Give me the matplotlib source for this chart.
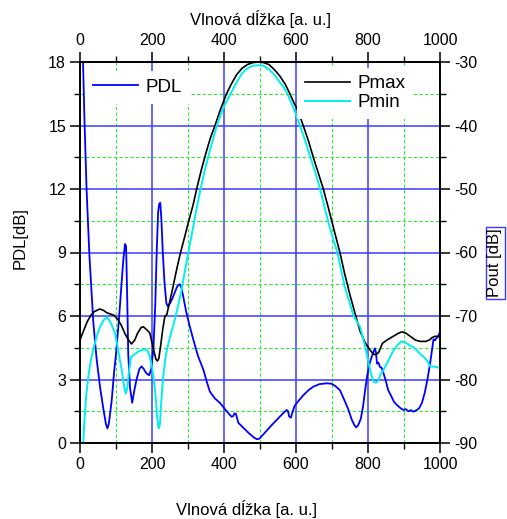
import matplotlib
matplotlib.use("Agg")
import matplotlib.pyplot as plt
from matplotlib.ticker import FixedLocator

plt.rcParams['font.family'] = ['Liberation Sans', 'DejaVu Sans']
plt.rcParams['axes.unicode_minus'] = False

W, H = 507, 519

# PDL trace (left axis, dB)
pdl_x = [8, 12, 18, 26, 37, 46, 56, 65, 72, 76, 80, 88, 95, 100, 108, 115, 120, 125,
         128, 131, 134, 139, 145, 150, 157, 165, 171, 177, 184, 192, 198, 204, 209, 213,
         217, 220, 223, 226, 230, 235, 240, 244, 250, 256, 263, 270, 277, 281, 287, 295,
         305, 315, 328, 343, 352, 361, 375, 389, 405, 421, 426, 429, 433, 436, 440, 455,
         470, 484, 491, 498, 510, 530, 550, 565, 574, 578, 581, 586, 590, 596, 605, 620,
         635, 648, 665, 685, 699, 710, 722, 735, 745, 755, 762, 767, 773, 780, 786, 792,
         798, 805, 812, 819, 822, 825, 829, 833, 838, 843, 850, 856, 865, 872, 880, 890,
         898, 905, 912, 920, 926, 935, 942, 950, 958, 965, 972, 978, 982, 986, 990, 994, 1000]
pdl_y = [18.3, 15.5, 12.1, 8.9, 5.7, 4.0, 2.6, 1.6, 0.9, 0.69, 0.9, 2.0, 3.4, 4.2, 5.8, 7.4, 8.6, 9.4,
         9.3, 7.0, 4.2, 2.6, 1.9, 2.4, 3.0, 3.5, 3.62, 3.5, 3.3, 3.2, 3.5, 4.5, 6.5, 9.0,
         10.9, 11.3, 11.35, 10.6, 9.0, 7.5, 6.6, 6.45, 6.6, 6.8, 7.1, 7.4, 7.5, 7.4, 6.9, 6.2,
         5.5, 4.87, 4.1, 3.45, 2.9, 2.42, 2.1, 1.89, 1.55, 1.24, 1.28, 1.4, 1.38, 1.2, 0.95, 0.7,
         0.45, 0.25, 0.18, 0.2, 0.42, 0.8, 1.15, 1.42, 1.56, 1.5, 1.25, 1.2, 1.45, 1.75, 1.95, 2.25,
         2.5, 2.66, 2.78, 2.82, 2.8, 2.68, 2.5, 2.0, 1.6, 1.1, 0.85, 0.74, 0.85, 1.15, 1.7, 2.5,
         3.2, 3.8, 4.15, 4.47, 4.3, 3.75, 3.8, 3.6, 3.55, 3.3, 2.9, 2.5, 2.2, 1.95, 1.8, 1.65,
         1.56, 1.6, 1.5, 1.55, 1.48, 1.55, 1.64, 1.9, 2.4, 3.0, 3.7, 4.4, 4.9, 4.85, 4.95, 5.0, 5.26]

# Output power traces (right axis, dB)
pmax_x = [0, 10, 20, 30, 40, 55, 65, 75, 85, 95, 106, 115, 125, 135, 143, 152, 160, 170,
          176, 186, 194, 200, 206, 211, 215, 219, 224, 230, 236, 241, 255, 268, 278, 290,
          300, 315, 324, 337, 350, 362, 375, 390, 407, 420, 435, 450, 465, 480, 495, 510,
          525, 540, 555, 570, 583, 595, 605, 620, 635, 648, 662, 676, 690, 705, 722, 735,
          750, 766, 778, 792, 805, 815, 822, 830, 840, 855, 870, 885, 894, 905, 920, 932,
          945, 960, 970, 978, 986, 992, 1000]
pmax_y = [-73.8, -72.3, -70.9, -69.9, -69.3, -68.9, -69.1, -69.5, -69.7, -69.9, -70.6, -71.5, -72.8, -73.8, -74.4, -73.8, -72.7, -71.8,
          -71.7, -72.2, -72.7, -74.2, -75.7, -76.8, -77.1, -76.7, -74.7, -72.0, -70.0, -69.8, -66.3, -62.8, -60.3, -57.7,
          -55.5, -52.3, -50.0, -47.0, -44.3, -42.0, -40.0, -37.5, -35.0, -33.5, -32.0, -31.0, -30.4, -30.1, -30.0, -30.1,
          -30.4, -31.2, -32.2, -33.5, -35.0, -36.5, -37.6, -40.0, -42.5, -45.0, -47.5, -50.0, -53.0, -56.3, -60.0, -63.3,
          -66.7, -70.0, -72.4, -74.2, -75.3, -76.0, -76.1, -75.7, -74.3, -73.7, -73.2, -72.7, -72.5, -72.7, -73.3, -73.8,
          -74.0, -74.0, -73.8, -73.4, -73.2, -73.2, -73.2]

pmin_x = [9, 12, 17, 23, 30, 38, 46, 55, 65, 74, 82, 90, 97, 104, 110, 116, 121, 125,
          128, 132, 137, 142, 144, 152, 165, 181, 188, 194, 200, 205, 209, 213, 217, 219,
          222, 226, 231, 238, 244, 250, 260, 270, 282, 292, 301, 312, 323, 335, 348, 362,
          380, 398, 418, 435, 450, 465, 480, 495, 510, 525, 540, 555, 566, 576, 590, 600,
          611, 625, 640, 654, 667, 681, 697, 715, 735, 760, 778, 792, 800, 808, 815, 822,
          828, 835, 843, 855, 868, 880, 893, 905, 915, 926, 940, 952, 963, 972, 988, 1000]
pmin_y = [-90.0, -86.7, -82.7, -79.6, -77.0, -75.0, -73.3, -71.8, -70.7, -70.2, -70.7, -71.7, -72.7, -74.7, -76.7, -78.5, -80.5, -81.8,
          -82.2, -81.0, -78.3, -76.5, -76.4, -76.0, -75.5, -75.2, -75.5, -76.4, -78.0, -80.0, -82.0, -85.0, -87.3, -87.7,
          -87.0, -83.3, -79.6, -76.3, -74.7, -73.3, -71.3, -69.0, -66.0, -62.7, -60.0, -56.7, -53.3, -50.0, -46.7, -43.7,
          -40.0, -37.2, -35.0, -33.2, -31.8, -31.0, -30.6, -30.5, -30.6, -31.2, -32.0, -33.2, -34.0, -35.0, -36.8, -38.3,
          -40.0, -42.3, -45.0, -47.5, -50.0, -53.3, -56.7, -60.0, -65.3, -70.0, -71.7, -74.8, -77.0, -79.0, -80.3, -80.5,
          -80.2, -79.2, -78.5, -77.2, -75.7, -74.7, -74.0, -74.2, -74.6, -74.9, -75.7, -76.3, -76.9, -77.9, -78.0, -78.2]

# tick positions
x_major = [0, 200, 400, 600, 800, 1000]
x_minor = [100, 300, 500, 700, 900]
pdl_major = [0, 3, 6, 9, 12, 15, 18]
pdl_minor = [1.5, 4.5, 7.5, 10.5, 13.5, 16.5]
pout_major = [-90, -80, -70, -60, -50, -40, -30]
pout_minor = [-85, -75, -65, -55, -45, -35]

fig = plt.figure(figsize=(W / 100, H / 100), dpi=100)
ax = fig.add_axes([80 / W, 1 - 443 / H, 360 / W, 381 / H])

ax.set_xlim(0, 1000)
ax.set_ylim(0, 18)
ax.xaxis.set_major_locator(FixedLocator(x_major))
ax.xaxis.set_minor_locator(FixedLocator(x_minor))
ax.yaxis.set_major_locator(FixedLocator(pdl_major))
ax.yaxis.set_minor_locator(FixedLocator(pdl_minor))

ax.grid(which='major', color='#3c3cff', lw=1.1, ls='-', zorder=0)
ax.grid(which='minor', color='#33e633', lw=0.8, ls=(0, (3, 2)), zorder=0)
ax.set_axisbelow(True)

ax.plot(pdl_x, pdl_y, color='#0000ff', lw=1.3, label='PDL', zorder=3)

ax2 = ax.twinx()
ax2.set_ylim(-90, -30)
ax2.yaxis.set_major_locator(FixedLocator(pout_major))
ax2.yaxis.set_minor_locator(FixedLocator(pout_minor))
ax2.plot(pmax_x, pmax_y, color='black', lw=1.2, label='Pmax')
ax2.plot(pmin_x, pmin_y, color='#00eeee', lw=1.4, label='Pmin')

top = ax.secondary_xaxis('top')
top.xaxis.set_major_locator(FixedLocator(x_major))
top.xaxis.set_minor_locator(FixedLocator(x_minor))

for a in (ax, ax2, top):
    a.tick_params(which='major', direction='out', length=7, width=1.1, labelsize=11.5, pad=3)
    a.tick_params(which='minor', direction='out', length=4, width=1.0)
for s in ax.spines.values():
    s.set_linewidth(1.2)
for s in ax2.spines.values():
    s.set_linewidth(1.2)
top.spines['top'].set_linewidth(1.2)

# axis titles
fig.text(261 / W, 1 - 19 / H, 'Vlnová dĺžka [a. u.]', fontsize=12, ha='center', va='center')
fig.text(246 / W, 1 - 509 / H, 'Vlnová dĺžka [a. u.]', fontsize=12, ha='center', va='center')
fig.text(20 / W, 1 - 238 / H, 'PDL[dB]', rotation=90, fontsize=12, ha='center', va='center')
fig.text(495 / W, 1 - 263 / H, 'Pout [dB]', rotation=90, fontsize=12, ha='center', va='center',
         bbox=dict(facecolor='white', edgecolor='#3c3cff', lw=1.0, pad=1.5))

leg1 = ax.legend(loc='upper left', bbox_to_anchor=(0.0, 0.99), fontsize=13.5,
                 frameon=True, fancybox=False, edgecolor='none', facecolor='white',
                 framealpha=1, handlelength=2.4, handletextpad=0.4, borderaxespad=0.3)
leg2 = ax2.legend(loc='upper right', bbox_to_anchor=(0.94, 1.0), fontsize=13.5,
                  frameon=True, fancybox=False, edgecolor='none', facecolor='white',
                  framealpha=1, handlelength=2.4, handletextpad=0.4, labelspacing=0.1,
                  borderaxespad=0.3)

fig.savefig('out.png', dpi=100)
